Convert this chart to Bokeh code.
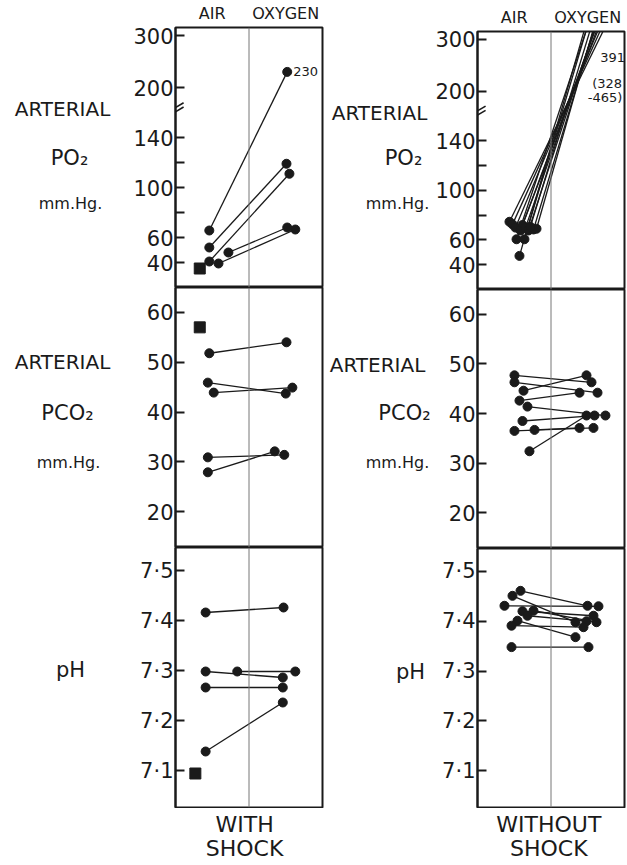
import numpy as np
from bokeh.plotting import figure
from bokeh.layouts import row, column
from bokeh.models import Range1d, FixedTicker, Span, Label, Arrow, ColumnDataSource
from bokeh.embed import file_html
from bokeh.resources import INLINE

FONT = "DejaVu Sans"
INK = "#1a1a1a"

# ---------------- data ----------------
groups = ["AIR", "OXYGEN"]
group_pos = [0.5, 1.5]
panel_titles = ["WITH\nSHOCK", "WITHOUT\nSHOCK"]

po2_ticks = [40, 60, 80, 100, 120, 140, 200, 300]
po2_labelled = [40, 60, 100, 140, 200, 300]
pco2_ticks = [20, 30, 40, 50, 60]
ph_ticks = [7.1, 7.2, 7.3, 7.4, 7.5]
ph_tick_labels = ["7·1", "7·2", "7·3", "7·4", "7·5"]

# WITH SHOCK - arterial PO2 (mm Hg), paired air -> oxygen
ws_po2_air = [65.6, 52, 40.8, 39.2, 48]
ws_po2_oxy = [230, 119, 111, 66.4, 68]
ws_po2_air_x = [0.46, 0.46, 0.46, 0.585, 0.72]
ws_po2_oxy_x = [1.52, 1.51, 1.55, 1.63, 1.52]
# WITH SHOCK - arterial PCO2
ws_pco2_air = [51.8, 45.9, 43.9, 30.9, 27.9]
ws_pco2_oxy = [54.0, 43.7, 44.9, 31.4, 32.1]
ws_pco2_air_x = [0.46, 0.44, 0.52, 0.44, 0.44]
ws_pco2_oxy_x = [1.51, 1.50, 1.59, 1.48, 1.35]
# WITH SHOCK - pH
ws_ph_air = [7.416, 7.298, 7.298, 7.266, 7.138]
ws_ph_oxy = [7.426, 7.286, 7.298, 7.266, 7.236]
ws_ph_air_x = [0.41, 0.41, 0.84, 0.41, 0.41]
ws_ph_oxy_x = [1.47, 1.46, 1.63, 1.46, 1.46]
# WITH SHOCK - single patient, air only (square)
ws_single_po2 = 35.2
ws_single_pco2 = 57.0
ws_single_ph = 7.094
ws_single_x = [0.33, 0.33, 0.27]

# WITHOUT SHOCK - arterial PO2
wo_po2_air = [74.6, 72.5, 69.9, 72.0, 67.6, 69.9, 67.6, 68.4, 69.0, 70.5, 60.5, 60.5, 47.1]
wo_po2_oxy = [328, 342, 355, 365, 374, 383, 391, 398, 407, 420, 433, 448, 465]
wo_po2_air_x = [0.435, 0.476, 0.517, 0.612, 0.585, 0.653, 0.694, 0.762, 0.803, 0.72, 0.531, 0.639, 0.571]
wo_po2_oxy_x = 1.75
# WITHOUT SHOCK - arterial PCO2
wo_pco2_air = [47.7, 46.3, 44.6, 42.6, 41.4, 38.5, 36.5, 36.7, 32.4]
wo_pco2_oxy = [46.3, 44.2, 47.7, 44.2, 39.6, 39.6, 37.1, 37.1, 39.6]
wo_pco2_air_x = [0.503, 0.503, 0.626, 0.571, 0.680, 0.612, 0.503, 0.776, 0.707]
wo_pco2_oxy_x = [1.551, 1.633, 1.483, 1.388, 1.741, 1.592, 1.578, 1.388, 1.483]
# WITHOUT SHOCK - pH
wo_ph_air = [7.461, 7.451, 7.431, 7.420, 7.421, 7.411, 7.401, 7.391, 7.348]
wo_ph_oxy = [7.431, 7.398, 7.430, 7.411, 7.398, 7.400, 7.368, 7.388, 7.348]
wo_ph_air_x = [0.585, 0.476, 0.367, 0.612, 0.762, 0.680, 0.544, 0.463, 0.463]
wo_ph_oxy_x = [1.497, 1.333, 1.646, 1.578, 1.619, 1.483, 1.333, 1.442, 1.510]

# row labels (left of each panel)
row_labels = [["ARTERIAL", "PO₂", "mm.Hg."], ["ARTERIAL", "PCO₂", "mm.Hg."], ["pH"]]

# ---------------- broken PO2 scale ----------------
PO2_BREAK = 159.2


def po2_disp(v):
    v = np.asarray(v, dtype=float)
    return np.where(v < 170, v, 180 + (v - 200) * 0.416)


PO2_RANGE = (20, 228)
PCO2_RANGE = (12.8, 65.0)
PH_RANGE = (7.026, 7.546)

po2_tick_disp = [round(float(po2_disp(t)), 1) for t in po2_ticks]
po2_over = {d: (str(t) if t in po2_labelled else "") for d, t in zip(po2_tick_disp, po2_ticks)}
pco2_over = {float(t): str(t) for t in pco2_ticks}
ph_over = {t: s for t, s in zip(ph_ticks, ph_tick_labels)}

FRAME_W = 147


def blank(width, height, xr, yr, left_b=0, right_b=0):
    p = figure(width=width, height=height, x_range=Range1d(*xr), y_range=Range1d(*yr),
               x_axis_location=None, y_axis_location=None,
               output_backend="svg", toolbar_location=None, min_border=0,
               min_border_left=left_b, min_border_right=right_b)
    p.xgrid.visible = False
    p.ygrid.visible = False
    p.outline_line_color = None
    p.background_fill_color = "white"
    p.border_fill_color = "white"
    return p


def make_panel(axw, right_b, top_b, frame_h, bottom_b, yr, ticks, over, top_axis=False):
    p = figure(width=axw + FRAME_W + right_b, height=top_b + frame_h + bottom_b,
               x_range=Range1d(0, 2), y_range=Range1d(*yr),
               x_axis_location="above" if top_axis else None,
               output_backend="svg", toolbar_location=None,
               min_border=0, min_border_left=axw, min_border_right=right_b,
               min_border_top=top_b, min_border_bottom=bottom_b)
    p.xgrid.visible = False
    p.ygrid.visible = False
    p.outline_line_color = INK
    p.outline_line_width = 2
    p.background_fill_color = "white"
    p.border_fill_color = "white"
    ax = p.yaxis[0]
    ax.ticker = FixedTicker(ticks=list(ticks))
    ax.major_label_overrides = over
    ax.axis_line_color = INK
    ax.axis_line_width = 2
    ax.major_tick_in = 9
    ax.major_tick_out = 0
    ax.major_tick_line_width = 2
    ax.major_tick_line_color = INK
    ax.minor_tick_line_color = None
    ax.major_label_standoff = 2
    ax.major_label_text_font = FONT
    ax.major_label_text_font_size = "21px"
    ax.major_label_text_color = INK
    if top_axis:
        xa = p.xaxis[0]
        xa.ticker = FixedTicker(ticks=group_pos)
        xa.major_label_overrides = {g: n for g, n in zip(group_pos, groups)}
        xa.axis_line_color = None
        xa.major_tick_line_color = None
        xa.minor_tick_line_color = None
        xa.major_tick_in = 0
        xa.major_tick_out = 0
        xa.major_label_standoff = 5
        xa.major_label_text_font = FONT
        xa.major_label_text_font_size = "16px"
        xa.major_label_text_color = INK
    p.add_layout(Span(location=1, dimension="height", line_color="#777", line_width=1))
    return p


def pairs(p, ax_, ay, ox, oy):
    n = len(ax_)
    ox = np.broadcast_to(np.asarray(ox, dtype=float), (n,))
    src = ColumnDataSource(dict(x0=list(ax_), y0=list(ay), x1=list(ox), y1=list(oy)))
    p.segment("x0", "y0", "x1", "y1", source=src, line_color=INK, line_width=1.3)
    p.scatter("x0", "y0", source=src, size=9, color=INK)
    p.scatter("x1", "y1", source=src, size=9, color=INK)


def txt(p, x, y, text, size="21px", align="center", baseline="middle"):
    p.add_layout(Label(x=x, y=y, text=text, text_font=FONT, text_font_size=size,
                       text_color=INK, text_align=align, text_baseline=baseline))


def po2_break(p):
    for dy in (0.0, 3.4):
        p.add_layout(Arrow(end=None, x_start=-0.19, y_start=PO2_BREAK - 5.2 + dy,
                           x_end=0.11, y_end=PO2_BREAK + 5.2 + dy,
                           line_color=INK, line_width=1.6))


def label_column(width, xs, ys):
    d = blank(width, 865, (0, width), (865, 0))
    k = 0
    for grp in row_labels:
        for t in grp:
            size = "16px" if t.startswith("mm") else ("20px" if t == "ARTERIAL" else "21px")
            txt(d, xs[k], ys[k], t, size=size)
            k += 1
    return d


def bottom_title(axw, right_b, x, text):
    # same left/right borders as the panels above, so x = 0..2 spans the panel frame
    b = blank(axw + FRAME_W + right_b, 57, (0, 2), (57, 0), left_b=axw, right_b=right_b)
    for i, line in enumerate(text.split("\n")):
        txt(b, x, 16 + 24 * i, line, size="22px")
    return b


# ---------------- WITH SHOCK (left) ----------------
AXL = 50
DL = label_column(125, [62, 69, 70, 62, 67, 68, 70], [108, 157, 203, 361, 412, 462, 669])
L1 = make_panel(AXL, 2, 27, 260, 0, PO2_RANGE, po2_tick_disp, po2_over, top_axis=True)
L2 = make_panel(AXL, 2, 0, 260, 0, PCO2_RANGE, pco2_ticks, pco2_over)
L3 = make_panel(AXL, 2, 0, 260, 1, PH_RANGE, ph_ticks, ph_over)
LB = bottom_title(AXL, 2, 0.94, panel_titles[0])

pairs(L1, ws_po2_air_x, po2_disp(ws_po2_air), ws_po2_oxy_x, po2_disp(ws_po2_oxy))
pairs(L2, ws_pco2_air_x, ws_pco2_air, ws_pco2_oxy_x, ws_pco2_oxy)
pairs(L3, ws_ph_air_x, ws_ph_air, ws_ph_oxy_x, ws_ph_oxy)
for p, v, x in zip((L1, L2, L3), (float(po2_disp(ws_single_po2)), ws_single_pco2, ws_single_ph), ws_single_x):
    p.scatter([x], [v], marker="square", size=11, color=INK)

imax = int(np.argmax(ws_po2_oxy))
L1.add_layout(Label(x=ws_po2_oxy_x[imax], y=float(po2_disp(ws_po2_oxy[imax])), x_offset=6,
                    text=f"{ws_po2_oxy[imax]:.0f}", text_font=FONT, text_font_size="13px",
                    text_color=INK, text_baseline="middle"))
po2_break(L1)

# ---------------- WITHOUT SHOCK (right) ----------------
AXR = 46
WR = 627 - 324 - (AXR + FRAME_W + 3)
DR = label_column(WR, [55, 79, 73, 53, 80, 73, 86], [112, 157, 203, 364, 412, 462, 671])
R1 = make_panel(AXR, 3, 31, 258, 0, PO2_RANGE, po2_tick_disp, po2_over, top_axis=True)
R2 = make_panel(AXR, 3, 0, 259, 0, PCO2_RANGE, pco2_ticks, pco2_over)
R3 = make_panel(AXR, 3, 0, 259, 1, PH_RANGE, ph_ticks, ph_over)
RB = bottom_title(AXR, 3, 0.97, panel_titles[1])

pairs(R1, wo_po2_air_x, po2_disp(wo_po2_air), wo_po2_oxy_x, po2_disp(wo_po2_oxy))
pairs(R2, wo_pco2_air_x, wo_pco2_air, wo_pco2_oxy_x, wo_pco2_oxy)
pairs(R3, wo_ph_air_x, wo_ph_air, wo_ph_oxy_x, wo_ph_oxy)

med = int(np.median(wo_po2_oxy))
R1.add_layout(Label(x=1.67, y=207, text=f"{med}", text_font=FONT, text_font_size="13px",
                    text_color=INK, text_baseline="middle"))
R1.add_layout(Label(x=1.56, y=186, text=f"({min(wo_po2_oxy)}", text_font=FONT,
                    text_font_size="13px", text_color=INK, text_baseline="middle"))
R1.add_layout(Label(x=1.50, y=175, text=f"-{max(wo_po2_oxy)})", text_font=FONT,
                    text_font_size="13px", text_color=INK, text_baseline="middle"))
po2_break(R1)

layout = row(DL, column(L1, L2, L3, LB), DR, column(R1, R2, R3, RB))
open("out.html", "w").write(file_html(layout, INLINE))
